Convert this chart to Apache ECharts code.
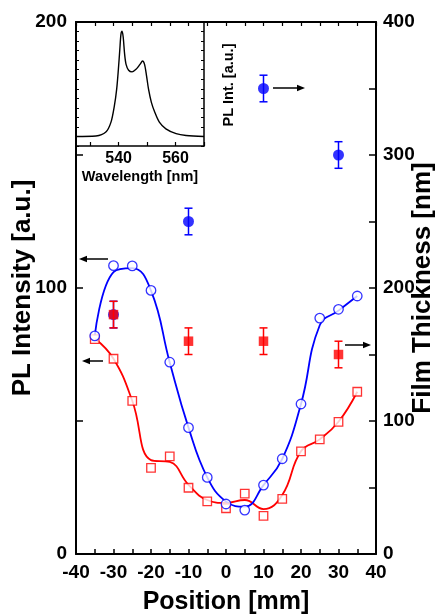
<!DOCTYPE html>
<html>
<head>
<meta charset="utf-8">
<script src="https://cdn.jsdelivr.net/npm/echarts@6/dist/echarts.min.js"></script>
<style>
  html, body { margin: 0; padding: 0; background: #fff; }
  #chart { width: 436px; height: 614px; }
</style>
</head>
<body>
<div id="chart"></div>
<script>
// ---- data ----
const positions = [-35, -30, -25, -20, -15, -10, -5, 0, 5, 10, 15, 20, 25, 30, 35];
const blueOpen = [82, 108.4, 108.3, 99.1, 72.1, 47.5, 28.8, 18.8, 16.5, 25.9, 35.8, 56.4, 88.7, 92, 97];
const blueFit  = [82, 106, 107.5, 99, 72, 47.5, 28.8, 19.7, 17.8, 25.9, 35.8, 56.4, 86, 91.5, 97];
const redOpen  = [80.8, 73.4, 57.6, 32.4, 36.7, 24.9, 19.8, 17.2, 22.7, 14.3, 20.7, 38.6, 43.1, 49.7, 61];
const redFit   = [81, 73.4, 57.6, 35.3, 34.6, 26, 20.3, 19.2, 20.3, 16.9, 22.2, 38.6, 43.1, 49.7, 61];

const filledPos   = [-30, -10, 10, 30];
const blueFilled  = [180, 250, 350, 300];
const blueErr     = [10, 10, 10, 10];
const redFilled   = [180, 160, 160, 150];
const redErr      = [10, 10, 10, 10];

const wavelength = [525, 532, 535.5, 537.3, 538.5, 539.3, 539.9, 540.4, 540.8, 541.2, 541.6, 542.1, 542.6, 543.5, 544.7, 546.1, 547.5, 548.4, 549.1, 549.8, 550.5, 551.5, 552.7, 554.3, 556.6, 560.2, 563.7, 570];
const spectrum   = [1.0, 1.05, 1.46, 2.5, 4.23, 5.96, 8.04, 10.1, 11.7, 12.03, 11.4, 9.6, 8.56, 7.94, 7.77, 8.04, 8.56, 8.91, 8.56, 7.35, 5.96, 4.58, 3.54, 2.5, 1.8, 1.29, 1.1, 1.0];

const xTicks = [-40, 40, 5];
const leftTicks = [0, 200, 50];
const rightTicks = [0, 400, 50];
const insetXTicks = [530, 540, 550, 560, 570];
const insetXLabels = [540, 560];

// ---- helpers ----
const FONT = "'Liberation Sans', Arial, Helvetica, sans-serif";
const BLUE = '#0000ff', RED = '#ff0000';
const zip = (xs, ys) => xs.map((x, i) => [x, ys[i]]);
const zip3 = (xs, ys, es) => xs.map((x, i) => [x, ys[i], es[i]]);

function errorBars(color) {
  return function (params, api) {
    const x = api.value(0), y = api.value(1), e = api.value(2);
    const t = api.coord([x, y + e]);
    const b = api.coord([x, y - e]);
    const hw = 4;
    const st = { stroke: color, lineWidth: 1.5 };
    return {
      type: 'group',
      children: [
        { type: 'line', shape: { x1: t[0], y1: t[1], x2: b[0], y2: b[1] }, style: st },
        { type: 'line', shape: { x1: t[0] - hw, y1: t[1], x2: t[0] + hw, y2: t[1] }, style: st },
        { type: 'line', shape: { x1: b[0] - hw, y1: b[1], x2: b[0] + hw, y2: b[1] }, style: st }
      ]
    };
  };
}

function arrow(x1, y, x2) {
  const dir = x2 > x1 ? 1 : -1;
  const L = 8, W = 3.2;
  return {
    type: 'group',
    silent: true,
    children: [
      { type: 'line', shape: { x1: x1, y1: y, x2: x2 - dir * L * 0.6, y2: y }, style: { stroke: '#000', lineWidth: 1.5 } },
      { type: 'polygon', shape: { points: [[x2, y], [x2 - dir * L, y - W], [x2 - dir * L, y + W]] }, style: { fill: '#000' } }
    ]
  };
}

const tickLabelStyle = { fontFamily: FONT, fontWeight: 'bold', fontSize: 19, color: '#000' };
const nameStyle = { fontFamily: FONT, fontWeight: 'bold', fontSize: 25, color: '#000' };
const yNameStyle = { fontFamily: FONT, fontWeight: 'bold', fontSize: 26, color: '#000' };
const axisLineStyle = { show: true, onZero: false, lineStyle: { color: '#000', width: 2 } };

const chart = echarts.init(document.getElementById('chart'), null, { renderer: 'canvas' });

const option = {
  backgroundColor: '#fff',
  animation: false,
  grid: [
    { left: 76, right: 60, top: 22, bottom: 60, containLabel: false, outerBoundsMode: 'none' },
    { left: 76, top: 22, width: 128, height: 124, containLabel: false, outerBoundsMode: 'none', show: true, backgroundColor: '#fff', borderWidth: 0 }
  ],
  xAxis: [
    {
      type: 'value', gridIndex: 0, position: 'bottom',
      min: xTicks[0], max: xTicks[1], interval: xTicks[2],
      name: 'Position [mm]', nameLocation: 'middle', nameGap: 36, nameMoveOverlap: false, nameTextStyle: nameStyle,
      axisLine: axisLineStyle,
      axisTick: { show: true, inside: true, length: 5, lineStyle: { color: '#000', width: 1.5 } },
      axisLabel: { ...tickLabelStyle, margin: 9, formatter: v => (v % 10 === 0 ? String(v) : '') },
      splitLine: { show: false }
    },
    {
      type: 'value', gridIndex: 0, position: 'top',
      min: xTicks[0], max: xTicks[1], interval: xTicks[2],
      axisLine: axisLineStyle,
      axisTick: { show: true, inside: true, length: 4, lineStyle: { color: '#000', width: 1.2 } },
      axisLabel: { show: false },
      splitLine: { show: false }
    },
    {
      type: 'value', gridIndex: 1, position: 'bottom',
      min: 525, max: 570,
      name: 'Wavelength [nm]', nameLocation: 'middle', nameGap: 23, nameMoveOverlap: false,
      nameTextStyle: { fontFamily: FONT, fontWeight: 'bold', fontSize: 14.5, color: '#000' },
      axisLine: { show: true, onZero: false, lineStyle: { color: '#000', width: 1.5 } },
      axisTick: { show: true, inside: true, length: 4, customValues: insetXTicks, lineStyle: { color: '#000', width: 1.2 } },
      axisLabel: { fontFamily: FONT, fontWeight: 'bold', fontSize: 16, color: '#000', margin: 5, customValues: insetXLabels },
      splitLine: { show: false }
    }
  ],
  yAxis: [
    {
      type: 'value', gridIndex: 0, position: 'left',
      min: leftTicks[0], max: leftTicks[1], interval: leftTicks[2],
      name: 'PL Intensity [a.u.]', nameLocation: 'middle', nameGap: 40, nameMoveOverlap: false, nameTextStyle: yNameStyle,
      axisLine: axisLineStyle,
      axisTick: { show: true, inside: true, length: 7, lineStyle: { color: '#000', width: 1.5 } },
      axisLabel: { ...tickLabelStyle, margin: 9, formatter: v => (v % 100 === 0 ? String(v) : '') },
      splitLine: { show: false }
    },
    {
      type: 'value', gridIndex: 0, position: 'right',
      min: rightTicks[0], max: rightTicks[1], interval: rightTicks[2],
      name: 'Film Thickness [nm]', nameLocation: 'middle', nameGap: 34, nameMoveOverlap: false, nameTextStyle: yNameStyle,
      axisLine: axisLineStyle,
      axisTick: { show: true, inside: true, length: 7, lineStyle: { color: '#000', width: 1.5 } },
      axisLabel: { ...tickLabelStyle, margin: 7, formatter: v => (v % 100 === 0 ? String(v) : '') },
      splitLine: { show: false }
    },
    {
      type: 'value', gridIndex: 1, position: 'left',
      min: 0, max: 13, interval: 1,
      axisLine: { show: true, onZero: false, lineStyle: { color: '#000', width: 1.5 } },
      axisTick: { show: true, inside: true, length: 3, lineStyle: { color: '#000', width: 1 } },
      axisLabel: { show: false },
      splitLine: { show: false }
    },
    {
      type: 'value', gridIndex: 1, position: 'right',
      min: 0, max: 13, interval: 1,
      axisLine: { show: true, onZero: false, lineStyle: { color: '#000', width: 1.5 } },
      axisTick: { show: true, inside: true, length: 3, lineStyle: { color: '#000', width: 1 } },
      axisLabel: { show: false },
      splitLine: { show: false }
    }
  ],
  series: [
    { type: 'line', xAxisIndex: 0, yAxisIndex: 0, data: zip(positions, redFit), smooth: 0.45, showSymbol: false, symbol: 'none',
      lineStyle: { color: RED, width: 1.8 }, z: 2 },
    { type: 'line', xAxisIndex: 0, yAxisIndex: 0, data: zip(positions, blueFit), smooth: 0.45, showSymbol: false, symbol: 'none',
      lineStyle: { color: BLUE, width: 1.8 }, z: 2 },
    { type: 'scatter', xAxisIndex: 0, yAxisIndex: 0, data: zip(positions, redOpen), symbol: 'rect', symbolSize: 8.5,
      itemStyle: { color: '#fff', borderColor: RED, borderWidth: 1.3 }, z: 3 },
    { type: 'scatter', xAxisIndex: 0, yAxisIndex: 0, data: zip(positions, blueOpen), symbol: 'circle', symbolSize: 9.5,
      itemStyle: { color: '#fff', borderColor: BLUE, borderWidth: 1.3 }, z: 4 },
    { type: 'custom', xAxisIndex: 0, yAxisIndex: 1, data: zip3(filledPos, blueFilled, blueErr), renderItem: errorBars(BLUE), z: 5 },
    { type: 'scatter', xAxisIndex: 0, yAxisIndex: 1, data: zip(filledPos, blueFilled), symbol: 'circle', symbolSize: 11,
      itemStyle: { color: BLUE }, z: 6 },
    { type: 'custom', xAxisIndex: 0, yAxisIndex: 1, data: zip3(filledPos, redFilled, redErr), renderItem: errorBars(RED), z: 7 },
    { type: 'scatter', xAxisIndex: 0, yAxisIndex: 1, data: zip(filledPos, redFilled), symbol: 'rect', symbolSize: 9.5,
      itemStyle: { color: RED }, z: 8 },
    { type: 'line', xAxisIndex: 2, yAxisIndex: 2, data: zip(wavelength, spectrum), smooth: 0.3, showSymbol: false, symbol: 'none',
      lineStyle: { color: '#000', width: 1.4 }, z: 10 }
  ],
  graphic: [
    arrow(108, 259, 79),
    arrow(103, 361, 82),
    arrow(345, 345, 371),
    arrow(273, 88, 305),
    {
      type: 'text', x: 229, y: 85, rotation: Math.PI / 2, silent: true,
      style: { text: 'PL Int. [a.u.]', fontFamily: FONT, fontWeight: 'bold', fontSize: 14.5, fill: '#000', align: 'center', verticalAlign: 'middle' }
    }
  ]
};

chart.setOption(option);
</script>
</body>
</html>
